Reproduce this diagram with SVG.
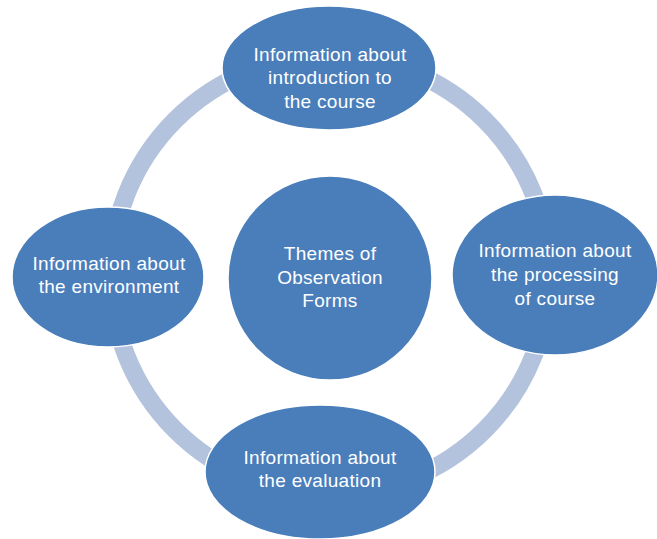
<svg xmlns="http://www.w3.org/2000/svg" width="657" height="539" viewBox="0 0 657 539">
<style>
.node{fill:#4a7ebb;stroke:#ffffff;stroke-width:1.5}
.lbl{fill:#ffffff;font-family:"Liberation Sans",Arial,sans-serif;font-size:19px;letter-spacing:0.3px;text-anchor:middle}
.ring{fill:none;stroke:#b4c3dd;stroke-width:18}
</style>
<rect width="657" height="539" fill="#ffffff"/>
<g id="connectors">
<circle class="ring" cx="330" cy="275" r="219"/>
</g>
<g id="n-top">
<ellipse class="node" cx="329" cy="68" rx="107" ry="62"/>
<text class="lbl" x="330" y="61">Information about</text>
<text class="lbl" x="330" y="84">introduction to</text>
<text class="lbl" x="330" y="108">the course</text>
</g>
<g id="n-right">
<ellipse class="node" cx="555" cy="275" rx="103" ry="80"/>
<text class="lbl" x="555" y="257">Information about</text>
<text class="lbl" x="555" y="281">the processing</text>
<text class="lbl" x="555" y="305">of course</text>
</g>
<g id="n-left">
<ellipse class="node" cx="108" cy="277" rx="96" ry="70"/>
<text class="lbl" x="109" y="270">Information about</text>
<text class="lbl" x="109" y="293">the environment</text>
</g>
<g id="n-bottom">
<ellipse class="node" cx="320" cy="472" rx="115" ry="67"/>
<text class="lbl" x="320" y="464">Information about</text>
<text class="lbl" x="320" y="487">the evaluation</text>
</g>
<g id="n-center">
<circle class="node" cx="330" cy="278" r="102"/>
<text class="lbl" x="330" y="260">Themes of</text>
<text class="lbl" x="330" y="284">Observation</text>
<text class="lbl" x="330" y="307">Forms</text>
</g>
</svg>
